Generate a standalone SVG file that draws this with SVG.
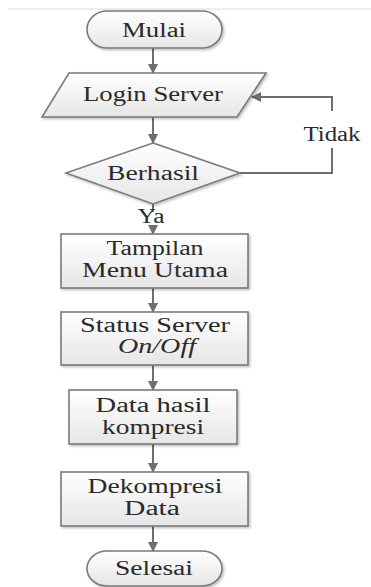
<svg xmlns="http://www.w3.org/2000/svg" width="371" height="587" viewBox="0 0 371 587">
<defs>
<linearGradient id="g" x1="0" y1="0" x2="0" y2="1">
<stop offset="0" stop-color="#ffffff"/>
<stop offset="1" stop-color="#e6e6e6"/>
</linearGradient>
<filter id="sh" x="-10%" y="-10%" width="130%" height="140%">
<feDropShadow dx="1.5" dy="1.5" stdDeviation="1" flood-color="#000" flood-opacity="0.25"/>
</filter>
<marker id="ah" markerWidth="10" markerHeight="10" refX="9" refY="5" orient="auto" markerUnits="userSpaceOnUse">
<path d="M0,0 L10,5 L0,10 Z" fill="#6e6e6e"/>
</marker>
</defs>
<style>
.n{fill:url(#g);stroke:#7a7a7a;stroke-width:1.6;filter:url(#sh)}
.t{font-family:'Liberation Serif','Times New Roman',serif;font-size:20px;fill:#2a2a2a;text-anchor:middle}
.c{fill:none;stroke:#6e6e6e;stroke-width:2}
.ar{marker-end:url(#ah)}
</style>
<rect width="371" height="587" fill="#fff"/>
<line x1="8" y1="9" x2="371" y2="9" stroke="#dcdcdc" stroke-width="1"/>
<g id="connectors">
<line class="c ar" x1="153" y1="48" x2="153" y2="73"/>
<line class="c ar" x1="153" y1="117" x2="153" y2="143"/>
<polyline class="c" points="240,173 332,173 332,148"/>
<polyline class="c ar" points="332,111 332,97 252,97"/>
<line class="c" x1="153" y1="204" x2="153" y2="212"/>
<line class="c ar" x1="153" y1="226" x2="153" y2="234"/>
<line class="c ar" x1="153" y1="288" x2="153" y2="312"/>
<line class="c ar" x1="153" y1="365" x2="153" y2="390"/>
<line class="c ar" x1="153" y1="444" x2="153" y2="472"/>
<line class="c ar" x1="153" y1="526" x2="153" y2="551"/>
<text class="t" x="332" y="141" textLength="57" lengthAdjust="spacingAndGlyphs">Tidak</text>
<text class="t" x="151" y="223" textLength="27" lengthAdjust="spacingAndGlyphs">Ya</text>
</g>
<g id="mulai">
<rect class="n" x="87" y="11" width="135" height="37" rx="20" ry="18.5"/>
<text class="t" x="154" y="37" textLength="64" lengthAdjust="spacingAndGlyphs">Mulai</text>
</g>
<g id="login">
<polygon class="n" points="69,73 266,73 237,117 42,117"/>
<text class="t" x="153" y="101" textLength="140" lengthAdjust="spacingAndGlyphs">Login Server</text>
</g>
<g id="berhasil">
<polygon class="n" points="153,143 240,173 153,204 66,173"/>
<text class="t" x="153" y="180" textLength="92" lengthAdjust="spacingAndGlyphs">Berhasil</text>
</g>
<g id="tampilan">
<rect class="n" x="61" y="234" width="187" height="54"/>
<text class="t" x="155" y="255" textLength="97" lengthAdjust="spacingAndGlyphs">Tampilan</text>
<text class="t" x="155" y="277" textLength="146" lengthAdjust="spacingAndGlyphs">Menu Utama</text>
</g>
<g id="status">
<rect class="n" x="61" y="312" width="187" height="53"/>
<text class="t" x="155" y="332" textLength="150" lengthAdjust="spacingAndGlyphs">Status Server</text>
<text class="t" x="157" y="353" font-style="italic" textLength="78" lengthAdjust="spacingAndGlyphs">On/Off</text>
</g>
<g id="data-hasil">
<rect class="n" x="69" y="390" width="168" height="54"/>
<text class="t" x="153" y="412" textLength="115" lengthAdjust="spacingAndGlyphs">Data hasil</text>
<text class="t" x="153" y="434" textLength="102" lengthAdjust="spacingAndGlyphs">kompresi</text>
</g>
<g id="dekompresi">
<rect class="n" x="61" y="472" width="187" height="54"/>
<text class="t" x="155" y="493" textLength="135" lengthAdjust="spacingAndGlyphs">Dekompresi</text>
<text class="t" x="152" y="515" textLength="56" lengthAdjust="spacingAndGlyphs">Data</text>
</g>
<g id="selesai">
<rect class="n" x="87" y="551" width="135" height="35" rx="20" ry="17.5"/>
<text class="t" x="154" y="575" textLength="78" lengthAdjust="spacingAndGlyphs">Selesai</text>
</g>
</svg>
